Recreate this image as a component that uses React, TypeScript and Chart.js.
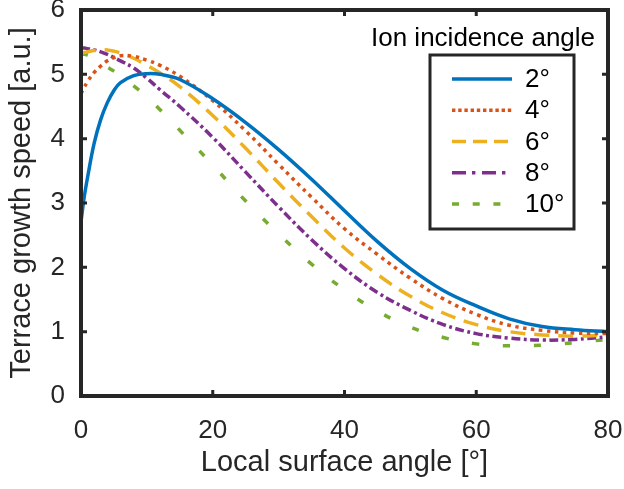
import React, { useEffect, useRef } from "react";
import { Chart, registerables } from "chart.js";

Chart.register(...registerables);

// ---- data ----
const xValues = [0, 0.5, 1, 2, 3, 4, 5, 6, 8, 10, 12, 15, 20, 25, 30, 35, 40, 45, 50, 55, 60, 65, 70, 75, 80];
const speed2 = [2.71, 3.1, 3.4, 3.93, 4.3, 4.56, 4.75, 4.87, 4.98, 5.01, 5.0, 4.92, 4.62, 4.25, 3.83, 3.37, 2.88, 2.4, 1.98, 1.64, 1.4, 1.2, 1.08, 1.03, 1.0];
const speed4 = [4.7, 4.8, 4.89, 5.03, 5.13, 5.21, 5.26, 5.29, 5.28, 5.22, 5.14, 4.97, 4.59, 4.12, 3.6, 3.09, 2.6, 2.2, 1.83, 1.51, 1.27, 1.1, 1.02, 0.98, 0.97];
const speed6 = [5.33, 5.34, 5.35, 5.37, 5.38, 5.38, 5.36, 5.33, 5.25, 5.14, 5.02, 4.81, 4.36, 3.85, 3.31, 2.79, 2.3, 1.89, 1.55, 1.29, 1.11, 1.0, 0.95, 0.93, 0.95];
const speed8 = [5.41, 5.41, 5.4, 5.38, 5.35, 5.31, 5.26, 5.21, 5.1, 4.94, 4.76, 4.5, 4.02, 3.48, 2.94, 2.43, 1.98, 1.61, 1.33, 1.11, 0.97, 0.9, 0.87, 0.88, 0.92];
const speed10 = [5.32, 5.31, 5.3, 5.25, 5.18, 5.11, 5.05, 4.98, 4.82, 4.65, 4.45, 4.13, 3.59, 3.03, 2.52, 2.05, 1.65, 1.32, 1.07, 0.91, 0.81, 0.78, 0.79, 0.83, 0.88];
const seriesLabels = ["2°", "4°", "6°", "8°", "10°"];
const xTickValues = [0, 20, 40, 60, 80];
const yTickValues = [0, 1, 2, 3, 4, 5, 6];

const legendTitle = "Ion incidence angle";
const xTitle = "Local surface angle [°]";
const yTitle = "Terrace growth speed [a.u.]";

// ---- styles ----
const FONT = "'Liberation Sans', Arial, Helvetica, sans-serif";
const INK = "#262626";
const colors = ["#0072BD", "#D95319", "#EDB120", "#7E2F8E", "#77AC30"];
const plotDash = [[], [3.5, 4.5], [15, 9], [9, 3.5, 3, 3.5], [7, 24]];
const legendDash = [[], [3.4, 2.8], [14, 7], [14, 6, 3.4, 6.6], [7, 13.7]];

const frameAndLegend = {
  id: "frameAndLegend",
  afterDatasetsDraw(chart: any) {
    const ctx = chart.ctx as CanvasRenderingContext2D;
    const { left, right, top, bottom } = chart.chartArea;
    const xs = chart.scales.x;
    const ys = chart.scales.y;
    ctx.save();
    ctx.strokeStyle = INK;
    ctx.lineWidth = 4;
    ctx.setLineDash([]);
    ctx.strokeRect(left, top, right - left, bottom - top);
    ctx.lineWidth = 3;
    const tl = 6;
    ctx.beginPath();
    for (const v of xTickValues) {
      const p = xs.getPixelForValue(v);
      ctx.moveTo(p, bottom);
      ctx.lineTo(p, bottom - tl);
      ctx.moveTo(p, top);
      ctx.lineTo(p, top + tl);
    }
    for (const v of yTickValues) {
      const p = ys.getPixelForValue(v);
      ctx.moveTo(left, p);
      ctx.lineTo(left + tl, p);
      ctx.moveTo(right, p);
      ctx.lineTo(right - tl, p);
    }
    ctx.stroke();

    ctx.fillStyle = "#000";
    ctx.font = `26px ${FONT}`;
    ctx.textAlign = "left";
    ctx.textBaseline = "alphabetic";
    ctx.fillText(legendTitle, 371, 46);

    const bx = 430, by = 55, bw = 144, bh = 174;
    ctx.fillStyle = "#fff";
    ctx.fillRect(bx, by, bw, bh);
    ctx.strokeStyle = INK;
    ctx.lineWidth = 3;
    ctx.strokeRect(bx, by, bw, bh);

    const rowY0 = 79;
    const rowStep = 31.25;
    for (let i = 0; i < seriesLabels.length; i++) {
      const y = rowY0 + i * rowStep;
      ctx.strokeStyle = colors[i];
      ctx.lineWidth = 3.5;
      ctx.lineCap = "butt";
      ctx.setLineDash(legendDash[i]);
      ctx.beginPath();
      ctx.moveTo(452, y);
      ctx.lineTo(512, y);
      ctx.stroke();
      ctx.setLineDash([]);
      ctx.fillStyle = "#000";
      ctx.font = `26px ${FONT}`;
      ctx.textBaseline = "middle";
      ctx.fillText(seriesLabels[i], 525, y + 1);
    }
    ctx.restore();
  },
};

export default function App() {
  const canvasRef = useRef<HTMLCanvasElement | null>(null);

  useEffect(() => {
    const canvas = canvasRef.current;
    if (!canvas) return;
    const series = [speed2, speed4, speed6, speed8, speed10];
    const chart = new Chart(canvas, {
      type: "line",
      data: {
        datasets: series.map((s, i) => ({
          label: seriesLabels[i],
          data: xValues.map((x, j) => ({ x, y: s[j] })),
          borderColor: colors[i],
          backgroundColor: colors[i],
          borderWidth: 3.5,
          borderDash: plotDash[i],
          borderCapStyle: "butt",
          pointRadius: 0,
          tension: 0.4,
          fill: false,
        })),
      },
      options: {
        responsive: false,
        animation: false,
        devicePixelRatio: 1,
        layout: { padding: { top: 10, right: 16, left: 0, bottom: 0 } },
        plugins: {
          legend: { display: false },
          tooltip: { enabled: false },
        },
        scales: {
          x: {
            type: "linear",
            min: 0,
            max: 80,
            afterBuildTicks: (s: any) => {
              s.ticks = xTickValues.map((v) => ({ value: v }));
            },
            afterFit: (s: any) => {
              s.height = 93;
              s.paddingLeft = 0;
              s.paddingRight = 0;
            },
            grid: { display: false, drawTicks: false },
            border: { display: false },
            ticks: {
              color: INK,
              font: { family: FONT, size: 26 },
              padding: 19,
              maxRotation: 0,
              autoSkip: false,
            },
            title: {
              display: true,
              text: xTitle,
              color: INK,
              font: { family: FONT, size: 29 },
              padding: { top: 0, bottom: 9 },
            },
          },
          y: {
            type: "linear",
            min: 0,
            max: 6,
            afterBuildTicks: (s: any) => {
              s.ticks = yTickValues.map((v) => ({ value: v }));
            },
            afterFit: (s: any) => {
              s.width = 81;
              s.paddingTop = 0;
              s.paddingBottom = 0;
            },
            grid: { display: false, drawTicks: false },
            border: { display: false },
            ticks: {
              color: INK,
              font: { family: FONT, size: 26 },
              padding: 16,
              autoSkip: false,
            },
            title: {
              display: true,
              text: yTitle,
              color: INK,
              font: { family: FONT, size: 29 },
              padding: { top: 5, bottom: 0 },
            },
          },
        },
      },
      plugins: [frameAndLegend],
    } as any);
    return () => chart.destroy();
  }, []);

  return (
    <div style={{ position: "fixed", left: 0, top: 0, width: 624, height: 489, background: "#fff" }}>
      <canvas ref={canvasRef} width={624} height={489} style={{ display: "block", width: 624, height: 489 }} />
    </div>
  );
}
